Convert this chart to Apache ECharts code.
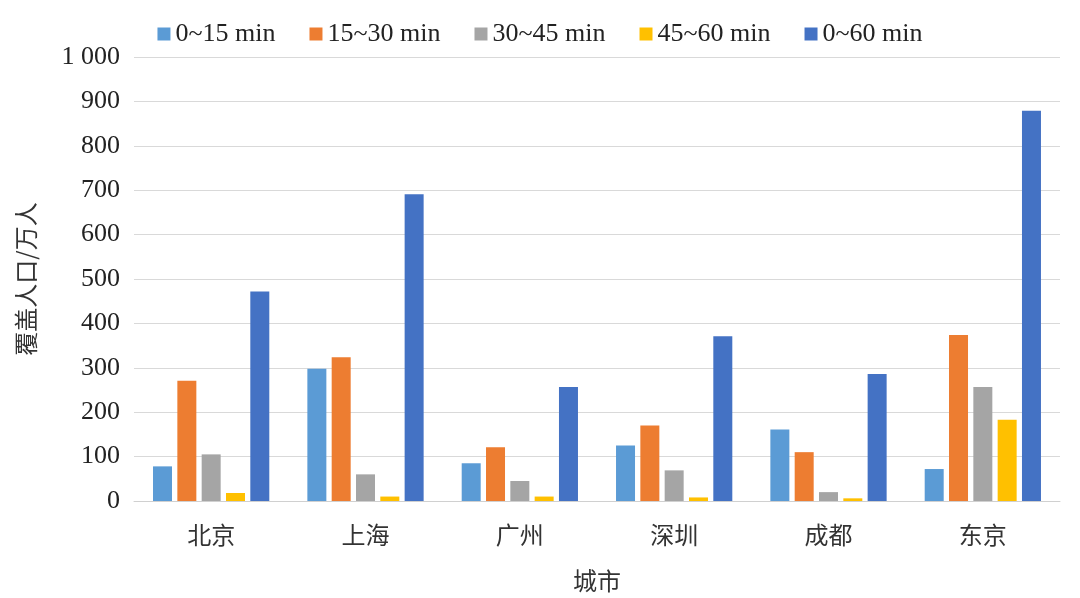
<!DOCTYPE html>
<html><head><meta charset="utf-8">
<script src="https://cdn.jsdelivr.net/npm/echarts@6/dist/echarts.min.js"></script>
<style>html,body{margin:0;background:#fff}#c{width:1080px;height:598px}</style>
</head><body><div id="c"></div>
<script>
const cities = ['北京', '上海', '广州', '深圳', '成都', '东京'];
const names = ['0~15 min', '15~30 min', '30~45 min', '45~60 min', '0~60 min'];
const s0_15 = [78, 298, 85, 125, 161, 72];
const s15_30 = [271, 324, 121, 170, 110, 374];
const s30_45 = [105, 60, 45, 69, 20, 257];
const s45_60 = [18, 10, 10, 8, 6, 183];
const s0_60 = [472, 691, 257, 371, 286, 879];
const colors = ['#5B9BD5', '#ED7D31', '#A5A5A5', '#FFC000', '#4472C4'];

const chart = echarts.init(document.getElementById('c'));
const serif = '"Liberation Serif", "Noto Sans CJK SC", serif';
chart.setOption({
  color: colors,
  legend: {
    top: 16, left: 'center', itemWidth: 13, itemHeight: 13, itemGap: 34,
    textStyle: { fontFamily: serif, fontSize: 26, color: '#222' },
    data: names.map(n => ({ name: n, icon: 'rect' }))
  },
  grid: { left: 134, right: 20, top: 57, bottom: 94 },
  xAxis: {
    type: 'category', data: cities,
    name: '城市', nameLocation: 'middle', nameGap: 68,
    nameTextStyle: { fontFamily: '"Noto Sans CJK SC"', fontSize: 24, color: '#333' },
    axisTick: { show: false },
    axisLine: { lineStyle: { color: '#d0d0d0' } },
    axisLabel: { fontFamily: '"Noto Sans CJK SC"', fontSize: 24, color: '#333', margin: 22 }
  },
  yAxis: {
    type: 'value', min: 0, max: 1000, interval: 100,
    name: '覆盖人口/万人', nameLocation: 'middle', nameGap: 96, nameRotate: 90,
    nameTextStyle: { fontFamily: '"Noto Sans CJK SC"', fontSize: 24, color: '#333' },
    axisLabel: {
      fontFamily: serif, fontSize: 26, color: '#222', margin: 14,
      formatter: v => v === 1000 ? '1 000' : String(v)
    },
    splitLine: { lineStyle: { color: '#d9d9d9' } }
  },
  series: [s0_15, s15_30, s30_45, s45_60, s0_60].map((d, i) => ({
    name: names[i], type: 'bar', data: d, barWidth: 19, barGap: '28%'
  }))
});
</script></body></html>
